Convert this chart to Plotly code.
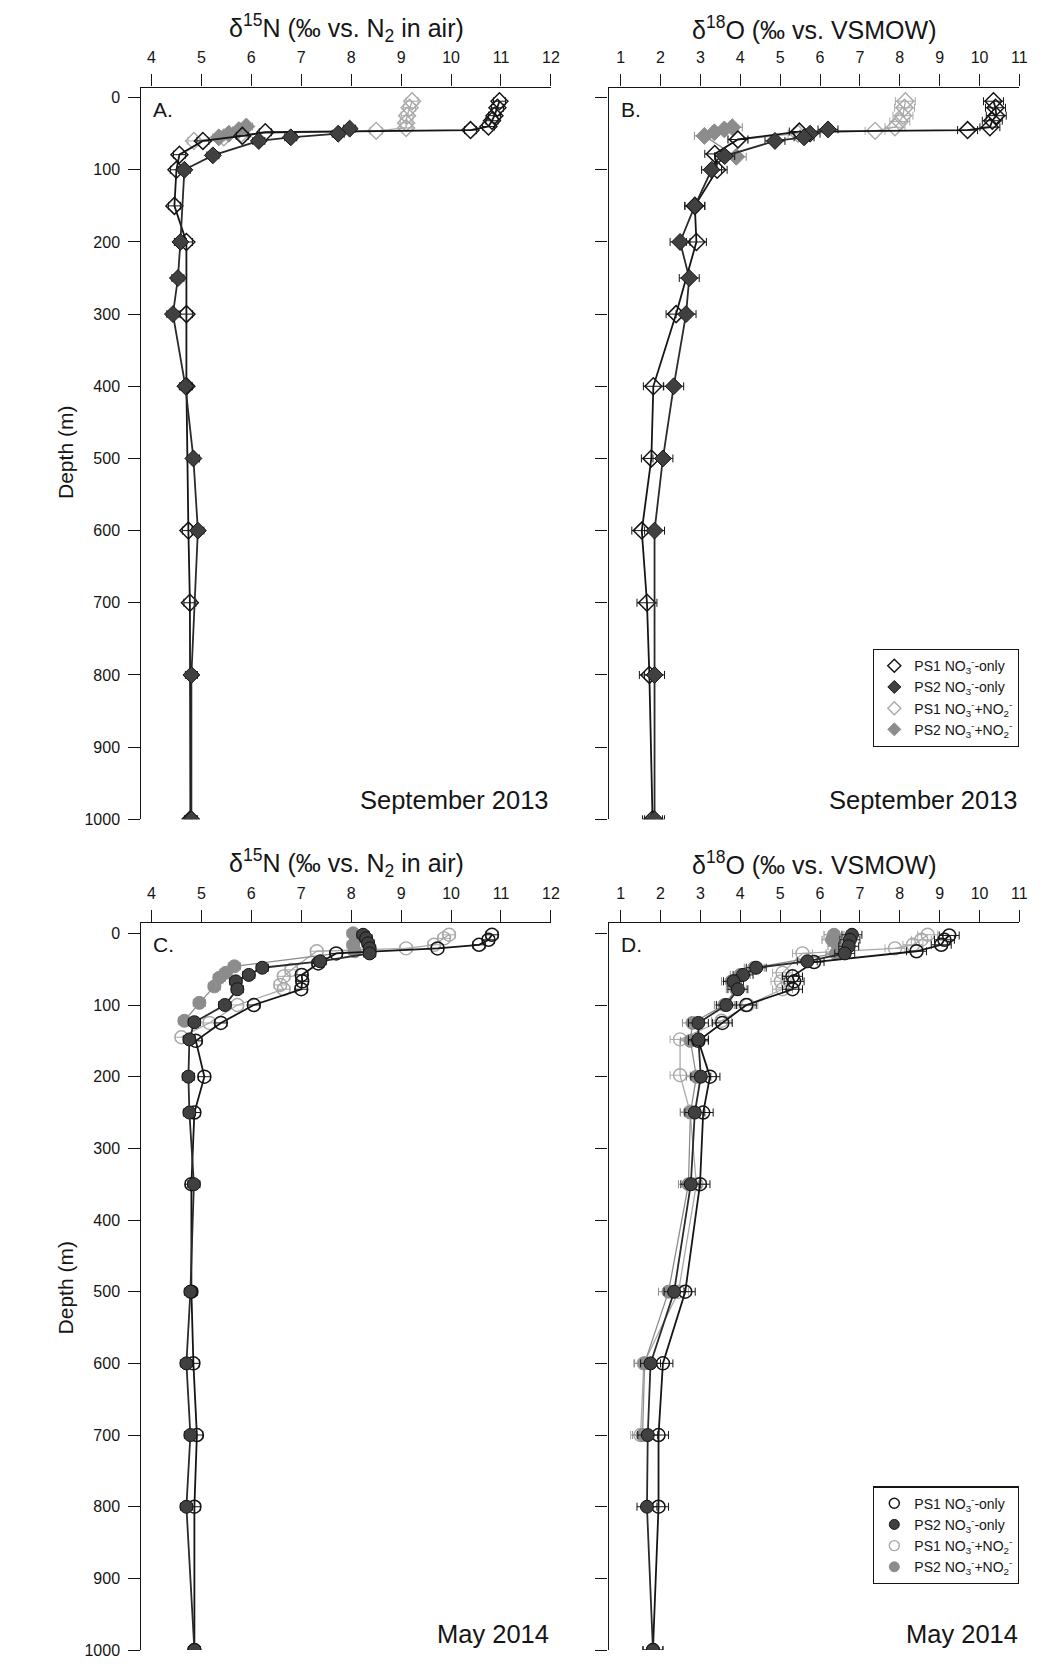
import plotly.graph_objects as go

# ---------------- DATA ----------------
# Panel A: September 2013, d15N (permil vs N2 in air)
A_ps1_no3_depth = [5, 14, 25, 32, 40, 45, 48, 53, 60, 79, 100, 150, 200, 300, 400, 600, 700, 1000]
A_ps1_no3_val = [10.97, 10.93, 10.87, 10.82, 10.75, 10.39, 6.28, 5.82, 5.03, 4.56, 4.50, 4.46, 4.70, 4.70, 4.70, 4.74, 4.77, 4.78]
A_ps2_no3_depth = [43, 50, 55, 60, 80, 100, 200, 250, 300, 400, 500, 600, 800, 1000]
A_ps2_no3_val = [7.97, 7.74, 6.79, 6.15, 5.23, 4.66, 4.58, 4.53, 4.43, 4.68, 4.84, 4.93, 4.80, 4.80]
A_ps1_nox_depth = [5, 14, 25, 35, 42, 46, 50, 55, 60]
A_ps1_nox_val = [9.22, 9.17, 9.12, 9.10, 9.10, 8.50, 5.80, 5.45, 4.85]
A_ps2_nox_depth = [40, 45, 50, 55]
A_ps2_nox_val = [5.90, 5.75, 5.55, 5.35]

# Panel B: September 2013, d18O (permil vs VSMOW)
B_ps1_no3_depth = [5, 14, 25, 32, 41, 45, 47, 58, 78, 100, 150, 200, 300, 400, 500, 600, 700, 800, 1000]
B_ps1_no3_val = [10.35, 10.40, 10.42, 10.32, 10.26, 9.70, 5.48, 3.94, 3.36, 3.42, 2.86, 2.90, 2.39, 1.82, 1.77, 1.53, 1.66, 1.72, 1.80]
B_ps2_no3_depth = [44, 50, 55, 60, 81, 100, 150, 200, 250, 300, 400, 500, 600, 800, 1000]
B_ps2_no3_val = [6.20, 5.75, 5.60, 4.87, 3.61, 3.28, 2.86, 2.49, 2.72, 2.64, 2.33, 2.06, 1.85, 1.85, 1.85]
B_ps1_nox_depth = [5, 14, 25, 33, 41, 46, 50, 58]
B_ps1_nox_val = [8.14, 8.12, 8.08, 8.00, 7.88, 7.38, 5.45, 3.95]
B_ps2_nox_depth = [41, 44, 48, 53, 82]
B_ps2_nox_val = [3.80, 3.60, 3.35, 3.10, 3.90]

# Panel C: May 2014, d15N
C_ps1_no3_depth = [2, 9, 16, 21, 28, 42, 58, 67, 78, 100, 125, 150, 200, 250, 350, 500, 600, 700, 800, 1000]
C_ps1_no3_val = [10.82, 10.75, 10.56, 9.73, 7.70, 7.34, 7.01, 7.02, 7.00, 6.05, 5.39, 4.89, 5.06, 4.86, 4.80, 4.80, 4.84, 4.91, 4.86, 4.86]
C_ps2_no3_depth = [2, 7, 14, 21, 28, 39, 48, 58, 67, 78, 100, 124, 148, 200, 250, 350, 500, 600, 700, 800, 1000]
C_ps2_no3_val = [8.24, 8.30, 8.34, 8.37, 8.37, 7.38, 6.22, 5.95, 5.69, 5.72, 5.47, 4.86, 4.76, 4.74, 4.76, 4.85, 4.78, 4.70, 4.78, 4.70, 4.86]
C_ps1_nox_depth = [2, 7, 16, 21, 25, 51, 60, 72, 78, 100, 125, 145]
C_ps1_nox_val = [9.96, 9.86, 9.66, 9.10, 7.31, 6.80, 6.65, 6.58, 6.65, 5.72, 5.16, 4.60]
C_ps2_nox_depth = [0, 7, 16, 25, 46, 55, 62, 74, 97, 122]
C_ps2_nox_val = [8.04, 8.10, 8.04, 8.07, 5.66, 5.49, 5.36, 5.26, 4.96, 4.66]

# Panel D: May 2014, d18O
D_ps1_no3_depth = [3, 9, 16, 25, 40, 60, 67, 78, 100, 125, 150, 200, 250, 350, 500, 600, 700, 800, 1000]
D_ps1_no3_val = [9.24, 9.12, 9.04, 8.42, 5.85, 5.31, 5.35, 5.31, 4.15, 3.55, 2.95, 3.24, 3.07, 2.99, 2.62, 2.06, 1.95, 1.95, 1.81]
D_ps2_no3_depth = [2, 9, 18, 28, 39, 48, 58, 67, 78, 100, 125, 148, 200, 250, 350, 500, 600, 700, 800, 1000]
D_ps2_no3_val = [6.80, 6.75, 6.72, 6.62, 5.68, 4.40, 4.07, 3.83, 3.94, 3.65, 2.95, 2.95, 3.01, 2.86, 2.76, 2.34, 1.75, 1.68, 1.66, 1.81]
D_ps1_nox_depth = [2, 9, 16, 21, 28, 55, 67, 78, 100, 122, 148, 198, 249, 350, 500, 600, 700]
D_ps1_nox_val = [8.70, 8.54, 8.33, 7.88, 5.56, 5.06, 5.02, 5.06, 4.19, 3.53, 2.49, 2.49, 2.74, 2.90, 2.45, 1.58, 1.50]
D_ps2_nox_depth = [2, 9, 18, 28, 48, 58, 67, 78, 100, 125, 150, 200, 250, 350, 500, 600, 700]
D_ps2_nox_val = [6.35, 6.30, 6.45, 6.40, 4.35, 4.00, 3.78, 3.90, 3.60, 2.80, 2.75, 2.90, 2.75, 2.70, 2.20, 1.60, 1.55]

# analytical uncertainty (permil) used for error bars
ERR_N = 0.12
ERR_O = 0.25

# axis ticks
N_ticks = list(range(4, 13))
O_ticks = list(range(1, 12))
depth_ticks = list(range(0, 1001, 100))

legend_labels = [
    "PS1 NO<sub>3</sub><sup>-</sup>-only",
    "PS2 NO<sub>3</sub><sup>-</sup>-only",
    "PS1 NO<sub>3</sub><sup>-</sup>+NO<sub>2</sub><sup>-</sup>",
    "PS2 NO<sub>3</sub><sup>-</sup>+NO<sub>2</sub><sup>-</sup>",
]

# ---------------- STYLE ----------------
W, H = 1040, 1671
FONT = "Liberation Sans, Arial, sans-serif"
BLACK = "#151515"
DARK = "#404040"
GREY = "#8c8c8c"
LIGHT = "#a9a9a9"


def px_x(p):
    return p / W


def px_y(p):
    return 1 - p / H


def style(kind, shape):
    if kind == "ps1_no3":
        return dict(symbol=f"{shape}-open", color=BLACK, lc=BLACK, lw=1.8, mlw=1.5)
    if kind == "ps2_no3":
        return dict(symbol=shape, color=DARK, edge=BLACK, lc="#2a2a2a", lw=1.8, mlw=1)
    if kind == "ps1_nox":
        return dict(symbol=f"{shape}-open", color=LIGHT, lc=LIGHT, lw=1.3, mlw=1.4)
    return dict(symbol=shape, color=GREY, edge=GREY, lc=GREY, lw=1.3, mlw=1)


fig = go.Figure()

panels = [
    ("x", "y", "diamond", ERR_N,
     [("ps1_nox", A_ps1_nox_val, A_ps1_nox_depth), ("ps2_nox", A_ps2_nox_val, A_ps2_nox_depth),
      ("ps1_no3", A_ps1_no3_val, A_ps1_no3_depth), ("ps2_no3", A_ps2_no3_val, A_ps2_no3_depth)]),
    ("x2", "y2", "diamond", ERR_O,
     [("ps1_nox", B_ps1_nox_val, B_ps1_nox_depth), ("ps2_nox", B_ps2_nox_val, B_ps2_nox_depth),
      ("ps1_no3", B_ps1_no3_val, B_ps1_no3_depth), ("ps2_no3", B_ps2_no3_val, B_ps2_no3_depth)]),
    ("x3", "y3", "circle", ERR_N,
     [("ps1_nox", C_ps1_nox_val, C_ps1_nox_depth), ("ps2_nox", C_ps2_nox_val, C_ps2_nox_depth),
      ("ps1_no3", C_ps1_no3_val, C_ps1_no3_depth), ("ps2_no3", C_ps2_no3_val, C_ps2_no3_depth)]),
    ("x4", "y4", "circle", ERR_O,
     [("ps1_nox", D_ps1_nox_val, D_ps1_nox_depth), ("ps2_nox", D_ps2_nox_val, D_ps2_nox_depth),
      ("ps1_no3", D_ps1_no3_val, D_ps1_no3_depth), ("ps2_no3", D_ps2_no3_val, D_ps2_no3_depth)]),
]

for xa, ya, shape, err, series in panels:
    for kind, vals, depths in series:
        s = style(kind, shape)
        marker = dict(symbol=s["symbol"], size=13, color=s["color"],
                      line=dict(width=s["mlw"], color=s.get("edge", s["color"])))
        fig.add_trace(go.Scatter(
            x=vals, y=depths, xaxis=xa, yaxis=ya, mode="lines+markers",
            line=dict(color=s["lc"], width=s["lw"]), marker=marker,
            error_x=dict(type="constant", value=err, color=s.get("edge", s["color"]),
                         thickness=1, width=4),
            showlegend=False, hoverinfo="skip"))

# legend-only traces
for leg, xa, ya, shape in [("legend", "x2", "y2", "diamond"), ("legend2", "x4", "y4", "circle")]:
    for kind, label in zip(["ps1_no3", "ps2_no3", "ps1_nox", "ps2_nox"], legend_labels):
        s = style(kind, shape)
        fig.add_trace(go.Scatter(
            x=[None], y=[None], xaxis=xa, yaxis=ya, mode="markers", name=label,
            marker=dict(symbol=s["symbol"], size=10, color=s["color"],
                        line=dict(width=s["mlw"], color=s.get("edge", s["color"]))),
            legend=leg, showlegend=True))

# ---------------- LAYOUT ----------------
xA = [px_x(142.7), px_x(555.7)]
xB = [px_x(614.0), px_x(1028.3)]
yTop = [px_y(823.7), px_y(88)]
yBot = [px_y(1659), px_y(928.3)]


def xaxis_cfg(dom, rng, ticks, anchor):
    return dict(domain=dom, range=rng, tickvals=ticks, side="top", anchor=anchor,
                ticks="outside", ticklen=12, tickwidth=1.4, tickcolor=BLACK,
                showline=True, linecolor=BLACK, linewidth=1.4, showgrid=False,
                zeroline=False, tickfont=dict(size=16, color=BLACK, family=FONT),
                ticklabelstandoff=5)


def yaxis_cfg(dom, anchor, labels=True):
    return dict(domain=dom, range=[1000, -14], tickvals=depth_ticks, anchor=anchor,
                ticks="outside", ticklen=12, tickwidth=1.4, tickcolor=BLACK,
                showline=True, linecolor=BLACK, linewidth=1.4, showgrid=False,
                zeroline=False, showticklabels=labels,
                tickfont=dict(size=16, color=BLACK, family=FONT), ticklabelstandoff=5)


N_range = [3.8, 12]
O_range = [0.7, 11]

legend_common = dict(xanchor="right", yanchor="bottom", bgcolor="white",
                     bordercolor=BLACK, borderwidth=1.2,
                     font=dict(size=14, color=BLACK, family=FONT),
                     tracegroupgap=0, itemwidth=30)

annotations = []
titleN = "δ<sup>15</sup>N (‰ vs. N<sub>2</sub> in air)"
titleO = "δ<sup>18</sup>O (‰ vs. VSMOW)"
for (xd, txt, yc) in [(xA, titleN, 28), (xB, titleO, 28), (xA, titleN, 868), (xB, titleO, 868)]:
    annotations.append(dict(text=txt, x=(xd[0] + xd[1]) / 2, y=px_y(yc), xref="paper", yref="paper",
                            xanchor="center", yanchor="middle", showarrow=False,
                            font=dict(size=25, color=BLACK, family=FONT)))
for (lab, px, py) in [("A.", 152, 110), ("B.", 624, 110), ("C.", 152, 950), ("D.", 624, 950)]:
    annotations.append(dict(text=lab, x=px_x(px), y=px_y(py), xref="paper", yref="paper",
                            xanchor="left", yanchor="middle", showarrow=False,
                            font=dict(size=21, color=BLACK, family=FONT)))
for (lab, px, py) in [("September 2013", 556, 804), ("September 2013", 1029, 804),
                      ("May 2014", 556, 1643), ("May 2014", 1029, 1643)]:
    annotations.append(dict(text=lab, x=px_x(px), y=px_y(py), xref="paper", yref="paper",
                            xanchor="right", yanchor="middle", showarrow=False,
                            font=dict(size=25.5, color=BLACK, family=FONT)))
for py in [455, 1295]:
    annotations.append(dict(text="Depth (m)", x=px_x(66), y=px_y(py), xref="paper", yref="paper",
                            xanchor="center", yanchor="middle", showarrow=False, textangle=-90,
                            font=dict(size=21, color=BLACK, family=FONT)))

fig.update_layout(
    width=W, height=H, margin=dict(l=0, r=0, t=0, b=0),
    paper_bgcolor="white", plot_bgcolor="rgba(0,0,0,0)",
    font=dict(family=FONT, color=BLACK),
    xaxis=xaxis_cfg(xA, N_range, N_ticks, "y"),
    yaxis=yaxis_cfg(yTop, "x"),
    xaxis2=xaxis_cfg(xB, O_range, O_ticks, "y2"),
    yaxis2=yaxis_cfg(yTop, "x2", labels=False),
    xaxis3=xaxis_cfg(xA, N_range, N_ticks, "y3"),
    yaxis3=yaxis_cfg(yBot, "x3"),
    xaxis4=xaxis_cfg(xB, O_range, O_ticks, "y4"),
    yaxis4=yaxis_cfg(yBot, "x4", labels=False),
    legend=dict(x=px_x(1028), y=px_y(751), **legend_common),
    legend2=dict(x=px_x(1028), y=px_y(1593), **legend_common),
    annotations=annotations,
)

# remove the page's default margin and any scrollbars so the figure fills the window exactly
page_css = ("var s=document.documentElement.style,b=document.body.style;"
            "s.margin='0';s.padding='0';s.overflow='hidden';"
            "b.margin='0';b.padding='0';b.overflow='hidden';")
fig.write_html("out.html", config={"displayModeBar": False}, post_script=page_css)
